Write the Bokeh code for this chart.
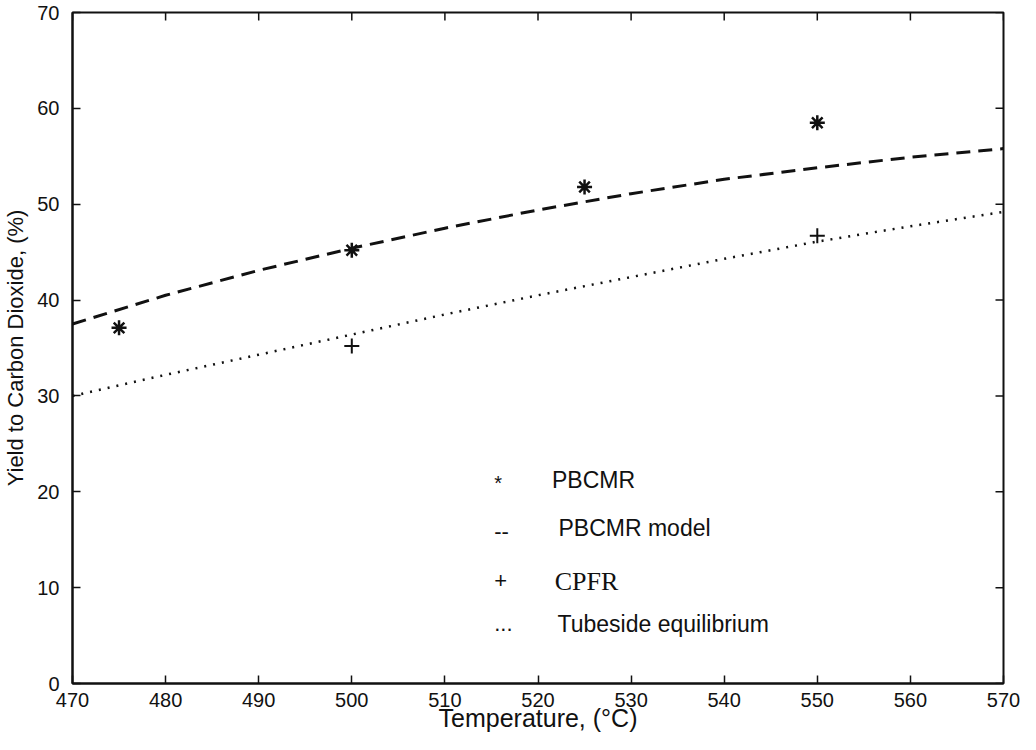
import math
from bokeh.plotting import figure
from bokeh.models import SingleIntervalTicker, Range1d
from bokeh.core.properties import value
from bokeh.embed import file_html
from bokeh.resources import INLINE

# ---- data ----
pbcmr_temp = [475, 500, 525, 550]
pbcmr_yield = [37.1, 45.2, 51.8, 58.5]

cpfr_temp = [500, 550]
cpfr_yield = [35.2, 46.7]

model_temp = [470, 480, 490, 500, 510, 520, 530, 540, 550, 560, 570]
model_yield = [37.5, 40.5, 43.1, 45.4, 47.5, 49.4, 51.1, 52.6, 53.8, 54.9, 55.8]

equil_temp = [470, 480, 490, 500, 510, 520, 530, 540, 550, 560, 570]
equil_yield = [30.0, 32.2, 34.3, 36.4, 38.5, 40.5, 42.4, 44.3, 46.1, 47.7, 49.2]

x_min, x_max, x_step = 470, 570, 10
y_min, y_max, y_step = 0, 70, 10
x_tick_values = list(range(x_min, x_max + 1, x_step))
y_tick_values = list(range(y_min, y_max + 1, y_step))

INK = "#111111"
FONT = "Liberation Sans"

p = figure(width=1020, height=734,
           x_range=Range1d(x_min, x_max), y_range=Range1d(y_min, y_max),
           output_backend="svg", toolbar_location=None,
           min_border_left=67, min_border_right=17,
           min_border_top=12, min_border_bottom=49)

p.xgrid.visible = False
p.ygrid.visible = False
p.outline_line_color = INK
p.outline_line_width = 2
p.background_fill_color = "white"
p.border_fill_color = "white"

def style_axis(ax):
    ax.major_tick_in = 8
    ax.major_tick_out = 0
    ax.major_tick_line_color = INK
    ax.major_tick_line_width = 1.5
    ax.minor_tick_line_color = None
    ax.axis_line_color = INK
    ax.axis_line_width = 2
    ax.major_label_text_font = FONT
    ax.major_label_text_color = INK
    ax.major_label_text_font_size = "20px"

xa = p.xaxis[0]
xa.ticker = SingleIntervalTicker(interval=x_step)
style_axis(xa)
xa.major_label_standoff = 5
xa.axis_label = "Temperature, (°C)"
xa.axis_label_text_font = FONT
xa.axis_label_text_font_style = "normal"
xa.axis_label_text_font_size = "25px"
xa.axis_label_text_color = INK
xa.axis_label_standoff = -6

ya = p.yaxis[0]
ya.ticker = SingleIntervalTicker(interval=y_step)
style_axis(ya)
ya.major_label_standoff = 9
ya.axis_label = "Yield to Carbon Dioxide, (%)"
ya.axis_label_text_font = FONT
ya.axis_label_text_font_style = "normal"
ya.axis_label_text_font_size = "22px"
ya.axis_label_text_color = INK
ya.axis_label_standoff = 6

# mirrored inward ticks on the top and right edges (half of each dash is clipped by the frame)
p.scatter(x_tick_values, [y_max] * len(x_tick_values), marker="dash", size=16,
          angle=math.pi / 2, line_color=INK, line_width=1.5)
p.scatter([x_max] * len(y_tick_values), y_tick_values, marker="dash", size=16,
          line_color=INK, line_width=1.5)

# curves
p.line(model_temp, model_yield, line_color=INK, line_width=3, line_dash="14 8")
p.line(equil_temp, equil_yield, line_color=INK, line_width=2.5, line_dash="2 7")

# points
p.scatter(pbcmr_temp, pbcmr_yield, marker="asterisk", size=15, line_color=INK, line_width=2.5)
p.scatter(cpfr_temp, cpfr_yield, marker="cross", size=15, line_color=INK, line_width=2)

# text legend (MATLAB-style)
sym_x = 515.3
lab_font = "23px"
p.text(x=[sym_x], y=[20.9], text=["*"], text_font=value(FONT), text_font_size="20px",
       text_align="left", text_baseline="middle", text_color=INK)
p.text(x=[521.5], y=[21.2], text=["PBCMR"], text_font=value(FONT), text_font_size=lab_font,
       text_align="left", text_baseline="middle", text_color=INK)
p.text(x=[sym_x], y=[15.9], text=["--"], text_font=value(FONT), text_font_size="22px",
       text_align="left", text_baseline="middle", text_color=INK)
p.text(x=[522.2], y=[16.2], text=["PBCMR model"], text_font=value(FONT), text_font_size=lab_font,
       text_align="left", text_baseline="middle", text_color=INK)
p.text(x=[sym_x], y=[10.7], text=["+"], text_font=value(FONT), text_font_size="22px",
       text_align="left", text_baseline="middle", text_color=INK)
p.text(x=[521.8], y=[10.6], text=["CPFR"], text_font=value("Liberation Serif"), text_font_size="26px",
       text_align="left", text_baseline="middle", text_color=INK)
p.text(x=[sym_x], y=[6.3], text=["..."], text_font=value(FONT), text_font_size="22px",
       text_align="left", text_baseline="middle", text_color=INK)
p.text(x=[522.1], y=[6.2], text=["Tubeside equilibrium"], text_font=value(FONT), text_font_size=lab_font,
       text_align="left", text_baseline="middle", text_color=INK)

open("out.html", "w").write(file_html(p, INLINE))
